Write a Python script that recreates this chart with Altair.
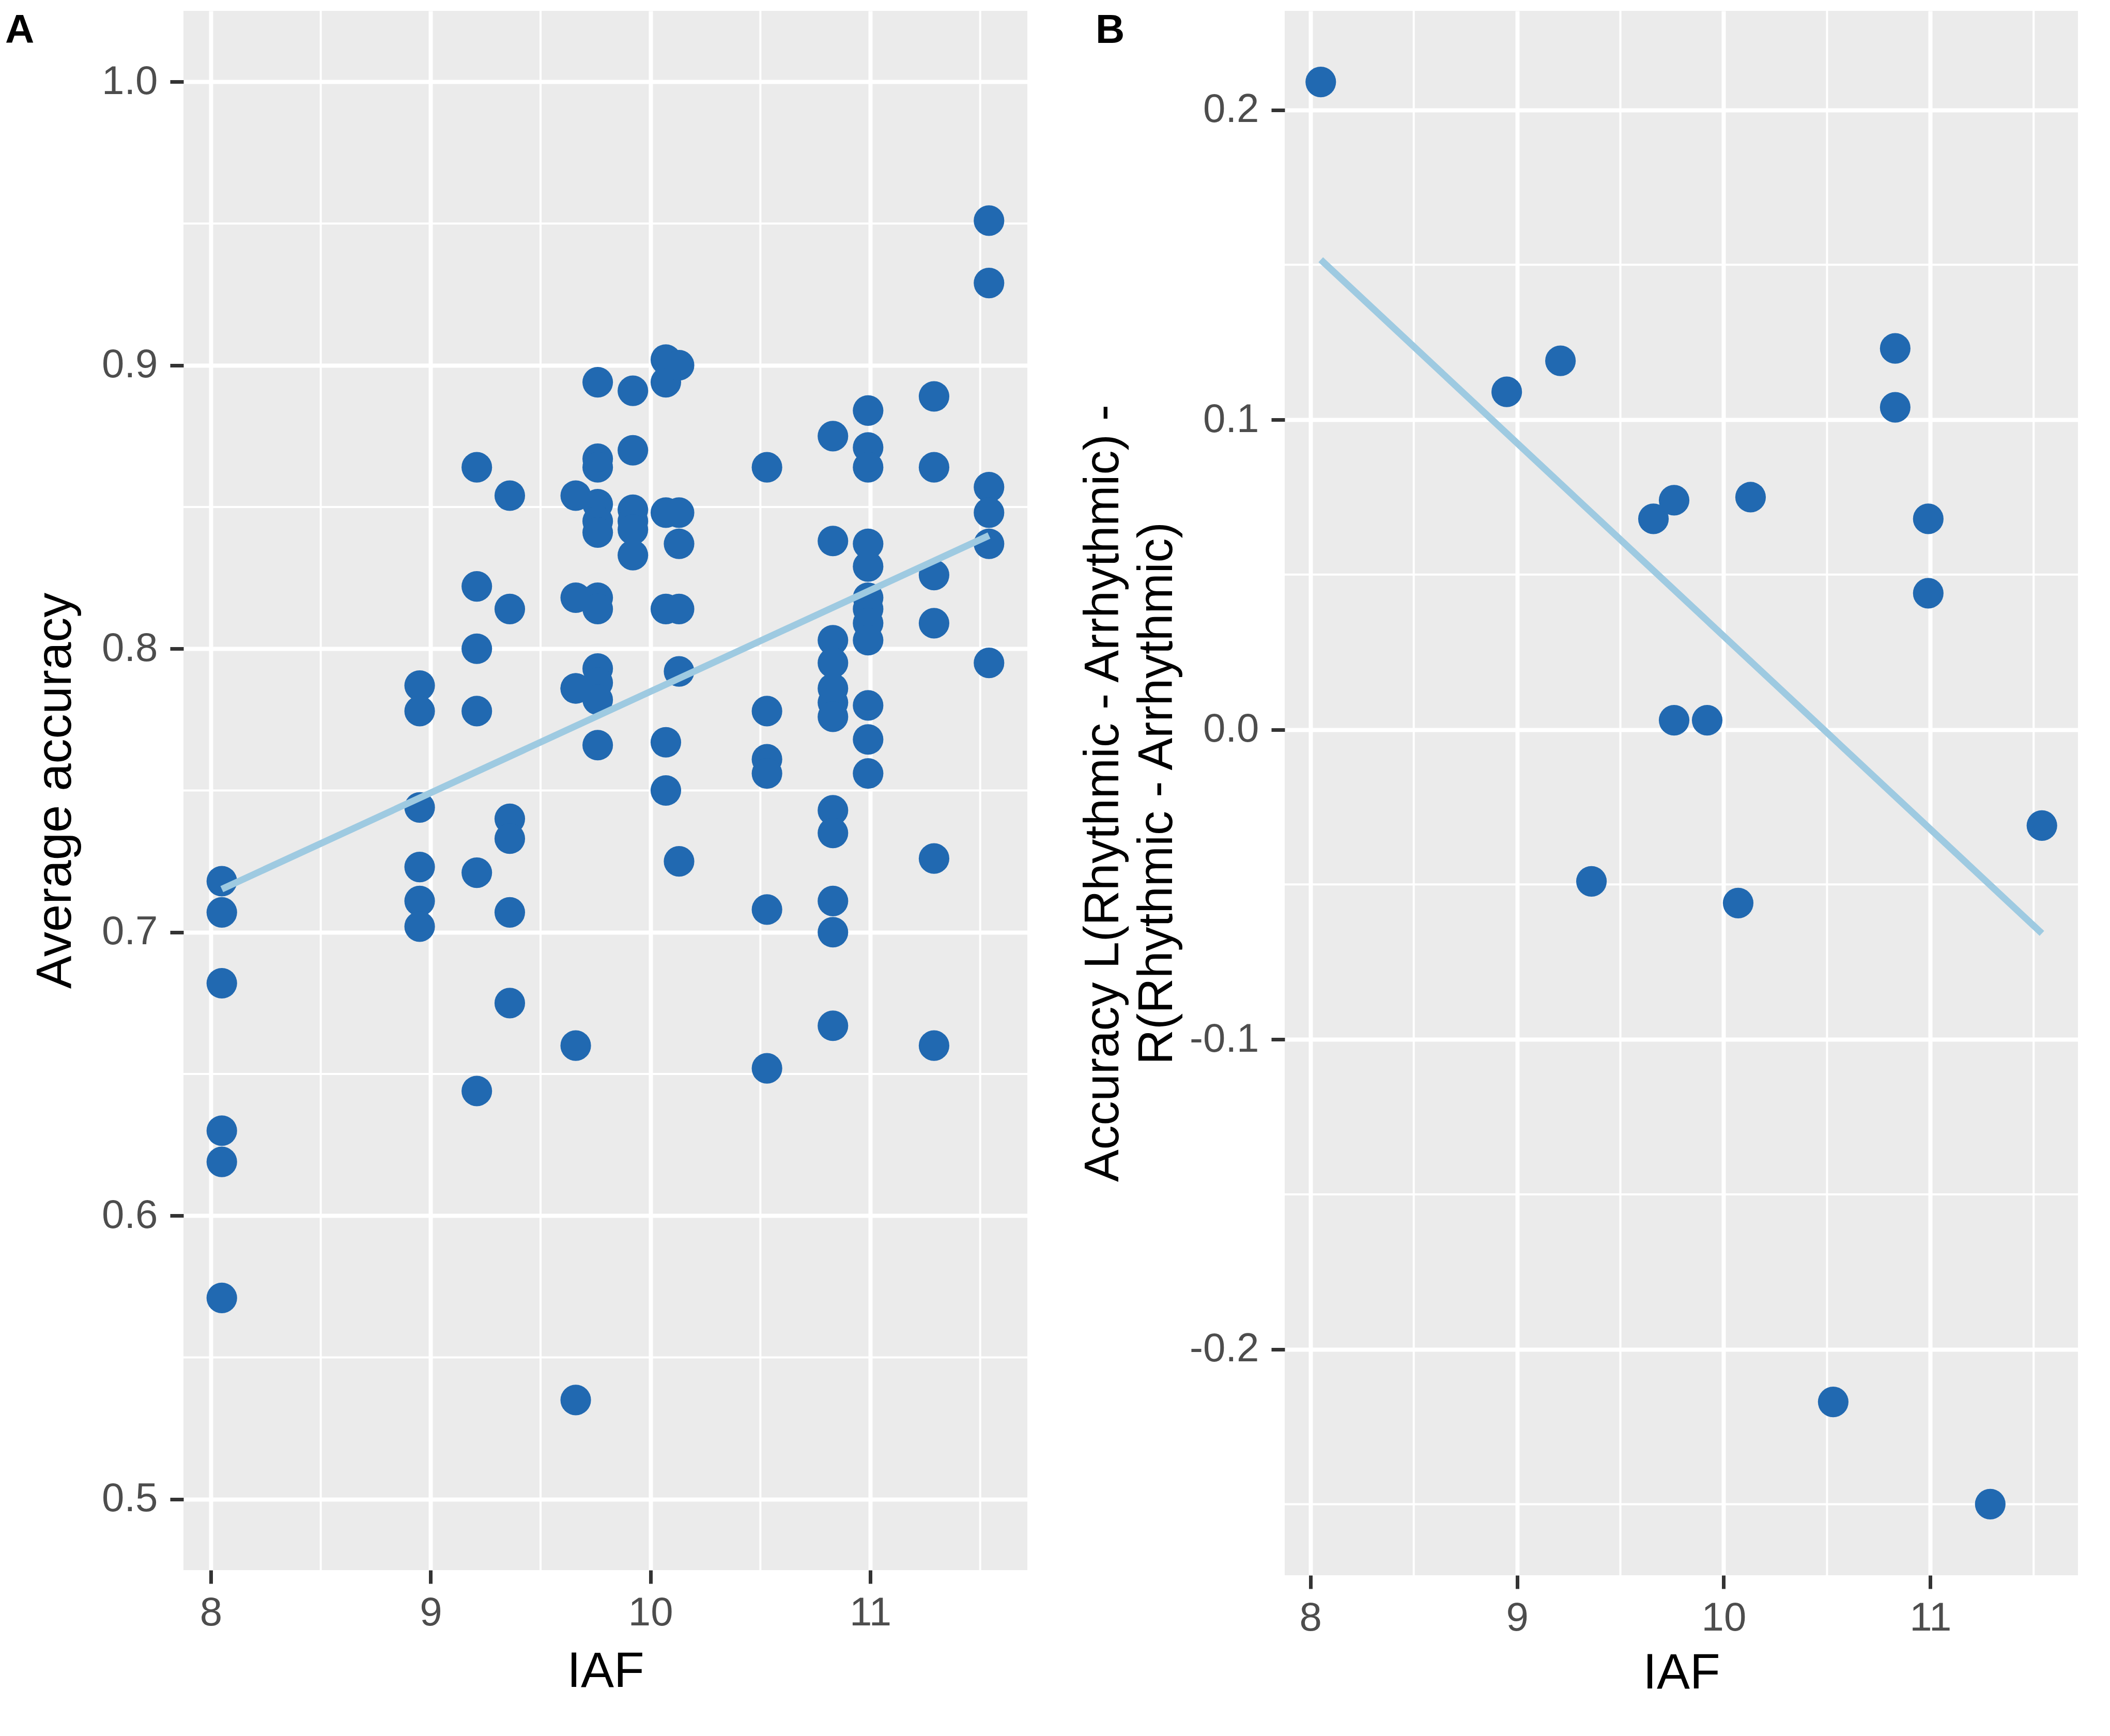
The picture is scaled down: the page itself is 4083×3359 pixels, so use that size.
import altair as alt
import pandas as pd

# ---------------- Panel A: average accuracy per IAF (6 conditions per subject)
acc_805 = [0.718, 0.707, 0.682, 0.630, 0.619, 0.571]
acc_895 = [0.787, 0.778, 0.744, 0.723, 0.711, 0.702]
acc_921 = [0.864, 0.822, 0.800, 0.778, 0.721, 0.644]
acc_936 = [0.854, 0.814, 0.740, 0.733, 0.707, 0.675]
acc_966 = [0.854, 0.818, 0.786, 0.786, 0.660, 0.535]
acc_976 = [0.894, 0.867, 0.864, 0.851, 0.845, 0.841, 0.818, 0.814, 0.793, 0.788, 0.782, 0.766]
acc_992 = [0.891, 0.870, 0.849, 0.845, 0.842, 0.833]
acc_1007 = [0.902, 0.894, 0.848, 0.814, 0.767, 0.750]
acc_1013 = [0.900, 0.848, 0.837, 0.814, 0.792, 0.725]
acc_1053 = [0.864, 0.778, 0.761, 0.756, 0.708, 0.652]
acc_1083 = [0.875, 0.838, 0.803, 0.795, 0.786, 0.781, 0.776, 0.743, 0.735, 0.711, 0.700, 0.667]
acc_1099 = [0.884, 0.871, 0.864, 0.837, 0.829, 0.818, 0.814, 0.809, 0.803, 0.780, 0.768, 0.756]
acc_1129 = [0.889, 0.864, 0.826, 0.809, 0.726, 0.660]
acc_1154 = [0.951, 0.929, 0.857, 0.848, 0.837, 0.795]

iaf_a_cols = [8.05, 8.95, 9.21, 9.36, 9.66, 9.76, 9.92, 10.07, 10.13, 10.53, 10.83, 10.99, 11.29, 11.54]
acc_a_cols = [acc_805, acc_895, acc_921, acc_936, acc_966, acc_976, acc_992,
              acc_1007, acc_1013, acc_1053, acc_1083, acc_1099, acc_1129, acc_1154]

# ---------------- Panel B: accuracy difference per subject
iaf_b = [8.05, 8.95, 9.21, 9.36, 9.66, 9.76, 9.76, 9.92, 10.07, 10.13, 10.53,
         10.83, 10.83, 10.99, 10.99, 11.29, 11.54]
diff_b = [0.209, 0.109, 0.119, -0.049, 0.068, 0.074, 0.003, 0.003, -0.056, 0.075, -0.217,
          0.123, 0.104, 0.068, 0.044, -0.250, -0.031]

# axis breaks
x_ticks = [8, 9, 10, 11]
x_minor = [8.5, 9.5, 10.5, 11.5]
ya_ticks = [0.5, 0.6, 0.7, 0.8, 0.9, 1.0]
ya_minor = [0.55, 0.65, 0.75, 0.85, 0.95]
ya_limits = [0.5, 1.0]
yb_ticks = [-0.2, -0.1, 0.0, 0.1, 0.2]
yb_minor = [-0.25, -0.15, -0.05, 0.05, 0.15]

POINT = "#2169B1"
LINE = "#9ECAE1"
FONT = "Liberation Sans"


def expand(lo, hi, m=0.05):
    r = hi - lo
    return [lo - m * r, hi + m * r]


df_a = pd.DataFrame([{"iaf": x, "acc": v} for x, vals in zip(iaf_a_cols, acc_a_cols) for v in vals])
df_b = pd.DataFrame({"iaf": iaf_b, "diff": diff_b})

x_dom = expand(min(iaf_b), max(iaf_b))
ya_dom = expand(*ya_limits)
yb_dom = expand(min(diff_b), max(diff_b))

xa = alt.X("iaf:Q", scale=alt.Scale(domain=x_dom, nice=False, zero=False),
           axis=alt.Axis(values=x_ticks, format="d", title="IAF", labelFlush=False))
ya = alt.Y("acc:Q", scale=alt.Scale(domain=ya_dom, nice=False, zero=False),
           axis=alt.Axis(values=ya_ticks, format=".1f", title="Average accuracy", labelFlush=False))

xb = alt.X("iaf:Q", scale=alt.Scale(domain=x_dom, nice=False, zero=False),
           axis=alt.Axis(values=x_ticks, format="d", title="IAF", labelFlush=False, titlePadding=20))
yb = alt.Y("diff:Q", scale=alt.Scale(domain=yb_dom, nice=False, zero=False),
           axis=alt.Axis(values=yb_ticks, title=["Accuracy L(Rhythmic - Arrhythmic) -", "R(Rhythmic - Arrhythmic)"],
                         labelExpr="(datum.value < 0 ? '-' : '') + format(abs(datum.value), '.1f')",
                         titleFontSize=94, titleLineHeight=104, titlePadding=14, labelFlush=False))

SIZE = 3500

# ---- Panel A layers
a_minor_x = alt.Chart(pd.DataFrame({"iaf": x_minor})).mark_rule(color="white", strokeWidth=4).encode(x=xa)
a_minor_y = alt.Chart(pd.DataFrame({"acc": ya_minor})).mark_rule(color="white", strokeWidth=4).encode(y=ya)
a_points = alt.Chart(df_a).mark_circle(size=SIZE, opacity=1, color=POINT).encode(x=xa, y=ya)
a_line = alt.Chart(df_a).transform_regression("iaf", "acc").mark_line(color=LINE, strokeWidth=13).encode(x=xa, y=ya)
a_label = alt.Chart(pd.DataFrame({"t": ["A"]})).mark_text(
    align="left", baseline="top", fontSize=78, fontWeight="bold", font=FONT, color="black"
).encode(text="t:N", x=alt.value(-345), y=alt.value(0))

panel_a = alt.layer(a_minor_x, a_minor_y, a_points, a_line, a_label).properties(width=1633, height=3017)

# ---- Panel B layers
b_minor_x = alt.Chart(pd.DataFrame({"iaf": x_minor})).mark_rule(color="white", strokeWidth=4).encode(x=xb)
b_minor_y = alt.Chart(pd.DataFrame({"diff": yb_minor})).mark_rule(color="white", strokeWidth=4).encode(y=yb)
b_points = alt.Chart(df_b).mark_circle(size=SIZE, opacity=1, color=POINT).encode(x=xb, y=yb)
b_line = alt.Chart(df_b).transform_regression("iaf", "diff").mark_line(color=LINE, strokeWidth=13).encode(x=xb, y=yb)
b_label = alt.Chart(pd.DataFrame({"t": ["B"]})).mark_text(
    align="left", baseline="top", fontSize=78, fontWeight="bold", font=FONT, color="black"
).encode(text="t:N", x=alt.value(-366), y=alt.value(0))

panel_b = alt.layer(b_minor_x, b_minor_y, b_points, b_line, b_label).properties(width=1535, height=3027)

chart = alt.hconcat(
    panel_a, panel_b, spacing=98,
    padding=alt.Padding(top=11, left=2, right=0, bottom=0)
).configure_view(
    fill="#EBEBEB", stroke=None
).configure_axis(
    domain=False, grid=True, gridColor="white", gridWidth=8,
    tickColor="#333333", tickWidth=7, tickSize=26,
    labelColor="#4D4D4D", labelFont=FONT, labelFontSize=78, labelPadding=24,
    titleFont=FONT, titleFontSize=96, titleColor="black", titleFontWeight="normal",
    labelOverlap=False
).configure_axisX(
    labelPadding=18, titlePadding=27
).configure_axisY(
    titlePadding=40
)

chart.save("out.html", embed_options={"renderer": "svg", "actions": False})
